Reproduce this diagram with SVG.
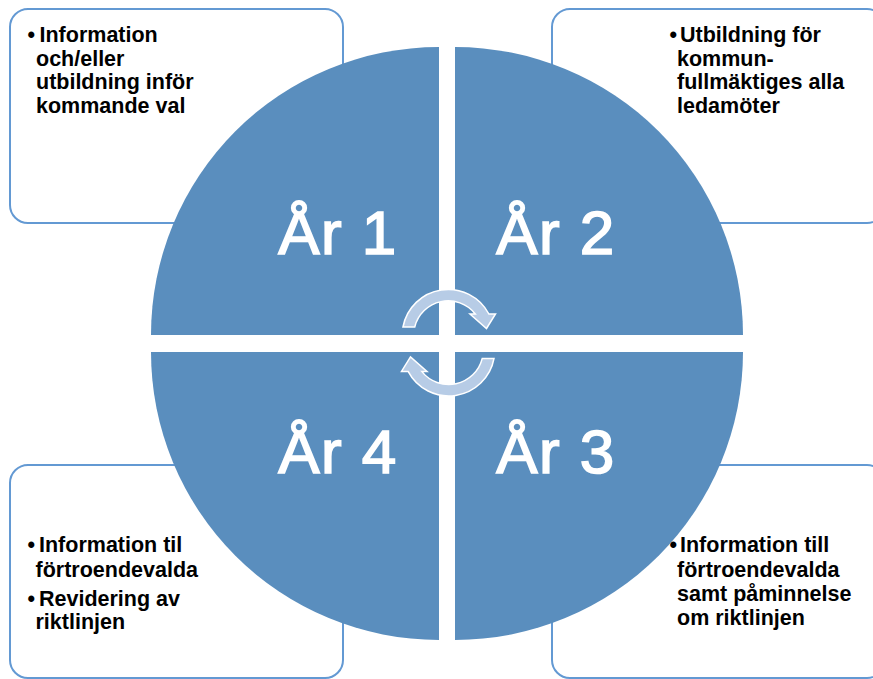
<svg xmlns="http://www.w3.org/2000/svg" width="873" height="679" viewBox="0 0 873 679">
<style>
.box{fill:#fff;stroke:#6399D3;stroke-width:2}
.pie{fill:#5A8EBE}
.t{font-family:"Liberation Sans",Arial,sans-serif;font-weight:bold;font-size:21.5px;fill:#000}
.yr{font-family:"Liberation Sans",Arial,sans-serif;font-size:62px;fill:#fff;stroke:#fff;stroke-width:1.6;text-anchor:middle;letter-spacing:1.5px}
.arr{fill:#B7CCE6;stroke:#fff;stroke-width:1.5;stroke-linejoin:miter}
</style>
<defs>
<path id="carrow" class="arr" d="M 402.97 327 A 46 46 0 0 1 488.9 314 L 495.5 314 L 486.5 328.5 L 470 314 L 475.3 314 A 34.5 34.5 0 0 0 414.74 327 Z"/>
</defs>
<rect width="873" height="679" fill="#fff"/>
<g id="box1">
<rect class="box" x="10" y="9" width="333" height="214" rx="18"/>
<text class="t"><tspan x="27.5" y="42">•</tspan><tspan x="39.5" y="42">Information</tspan><tspan x="36" y="65.7">och/eller</tspan><tspan x="36" y="89.4">utbildning inför</tspan><tspan x="36" y="113.1">kommande val</tspan></text>
</g>
<g id="box2">
<rect class="box" x="552" y="9" width="333" height="214" rx="18"/>
<text class="t"><tspan x="669.5" y="42">•</tspan><tspan x="680" y="42">Utbildning för</tspan><tspan x="677" y="65.7">kommun-</tspan><tspan x="677" y="89.4">fullmäktiges alla</tspan><tspan x="677" y="113.1">ledamöter</tspan></text>
</g>
<g id="box3">
<rect class="box" x="552" y="465" width="333" height="213" rx="18"/>
<text class="t"><tspan x="669.5" y="552.3">•</tspan><tspan x="680" y="552.3">Information till</tspan><tspan x="677" y="576.7">förtroendevalda</tspan><tspan x="677" y="601">samt påminnelse</tspan><tspan x="677" y="625.4">om riktlinjen</tspan></text>
</g>
<g id="box4">
<rect class="box" x="10" y="465" width="333" height="213" rx="18"/>
<text class="t"><tspan x="27.5" y="552.3">•</tspan><tspan x="39" y="552.3">Information til</tspan><tspan x="35.5" y="576.7">förtroendevalda</tspan><tspan x="27.5" y="605.7">•</tspan><tspan x="39" y="605.7">Revidering av</tspan><tspan x="35.5" y="629">riktlinjen</tspan></text>
</g>
<g id="year1">
<path class="pie" d="M 439 335 L 151 335 A 288 288 0 0 1 439 47 Z"/>
<text class="yr" x="338" y="254">År 1</text>
</g>
<g id="year2">
<path class="pie" d="M 455 335 L 455 47 A 288 288 0 0 1 743 335 Z"/>
<text class="yr" x="556" y="254">År 2</text>
</g>
<g id="year3">
<path class="pie" d="M 455 352 L 743 352 A 288 288 0 0 1 455 640 Z"/>
<text class="yr" x="556" y="473">År 3</text>
</g>
<g id="year4">
<path class="pie" d="M 439 352 L 439 640 A 288 288 0 0 1 151 352 Z"/>
<text class="yr" x="338" y="473">År 4</text>
</g>
<g id="connectors">
<use href="#carrow"/>
<use href="#carrow" transform="rotate(180 448.5 342.7)"/>
</g>
</svg>
